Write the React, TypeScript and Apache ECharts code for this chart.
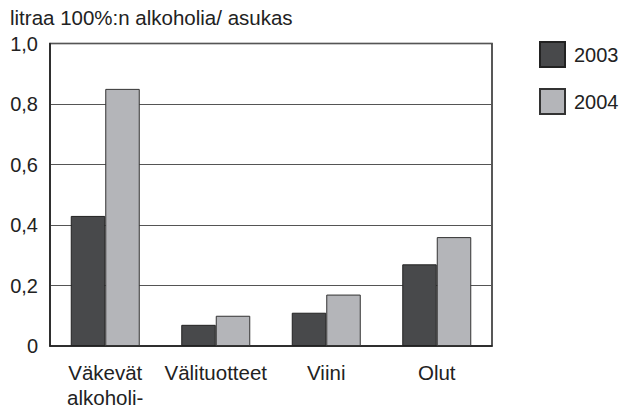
import React, { useEffect, useRef } from "react";
import * as echarts from "echarts";

const categories = ["Väkevät\nalkoholi-", "Välituotteet", "Viini", "Olut"];
const values2003 = [0.43, 0.07, 0.11, 0.27];
const values2004 = [0.85, 0.10, 0.17, 0.36];
const seriesNames = ["2003", "2004"];
const yTitle = "litraa 100%:n alkoholia/ asukas";

const FONT = "'Liberation Sans', Arial, Helvetica, sans-serif";

export default function App() {
  const ref = useRef<HTMLDivElement>(null);
  useEffect(() => {
    if (!ref.current) return;
    const chart = echarts.init(ref.current, null, { renderer: "svg" });
    chart.setOption({
      animation: false,
      backgroundColor: "#ffffff",
      textStyle: { fontFamily: FONT },
      graphic: [
        {
          type: "text",
          left: 10,
          top: 7,
          style: { text: yTitle, fontSize: 20.5, fill: "#222", fontFamily: FONT },
        },
      ],
      legend: {
        orient: "vertical",
        left: 539,
        top: 41,
        padding: 0,
        itemWidth: 25,
        itemHeight: 25,
        itemGap: 20,
        icon: "rect",
        textStyle: { fontSize: 20, color: "#222", fontFamily: FONT, padding: [0, 0, 0, 4] },
        data: seriesNames,
      },
      grid: {
        left: 50,
        right: 134,
        top: 43.5,
        bottom: 57.5,
        show: true,
        borderColor: "#222",
        borderWidth: 1.5,
        containLabel: false,
      },
      xAxis: {
        type: "category",
        data: categories,
        axisLine: { show: true, lineStyle: { color: "#222", width: 1.5 } },
        axisTick: { show: false },
        axisLabel: {
          fontSize: 20.5,
          color: "#222",
          margin: 14,
          lineHeight: 25,
          fontFamily: FONT,
          interval: 0,
        },
      },
      yAxis: {
        type: "value",
        min: 0,
        max: 1,
        interval: 0.2,
        axisLine: { show: true, lineStyle: { color: "#222", width: 1.5 } },
        axisTick: { show: false },
        splitLine: { show: true, lineStyle: { color: "#555", width: 1 } },
        axisLabel: {
          fontSize: 20,
          color: "#222",
          margin: 12,
          fontFamily: FONT,
          formatter: (v: number) => (v === 0 ? "0" : v.toFixed(1).replace(".", ",")),
        },
      },
      series: [
        {
          name: seriesNames[0],
          type: "bar",
          data: values2003,
          barWidth: 34.5,
          barGap: "0%",
          itemStyle: { color: "#48494b", borderColor: "#222", borderWidth: 1 },
        },
        {
          name: seriesNames[1],
          type: "bar",
          data: values2004,
          barWidth: 34.5,
          barGap: "0%",
          itemStyle: { color: "#b4b5b9", borderColor: "#333", borderWidth: 1 },
        },
      ],
    });
    return () => chart.dispose();
  }, []);
  return (
    <div
      ref={ref}
      style={{ position: "fixed", left: 0, top: 0, width: 626, height: 410 }}
    />
  );
}
